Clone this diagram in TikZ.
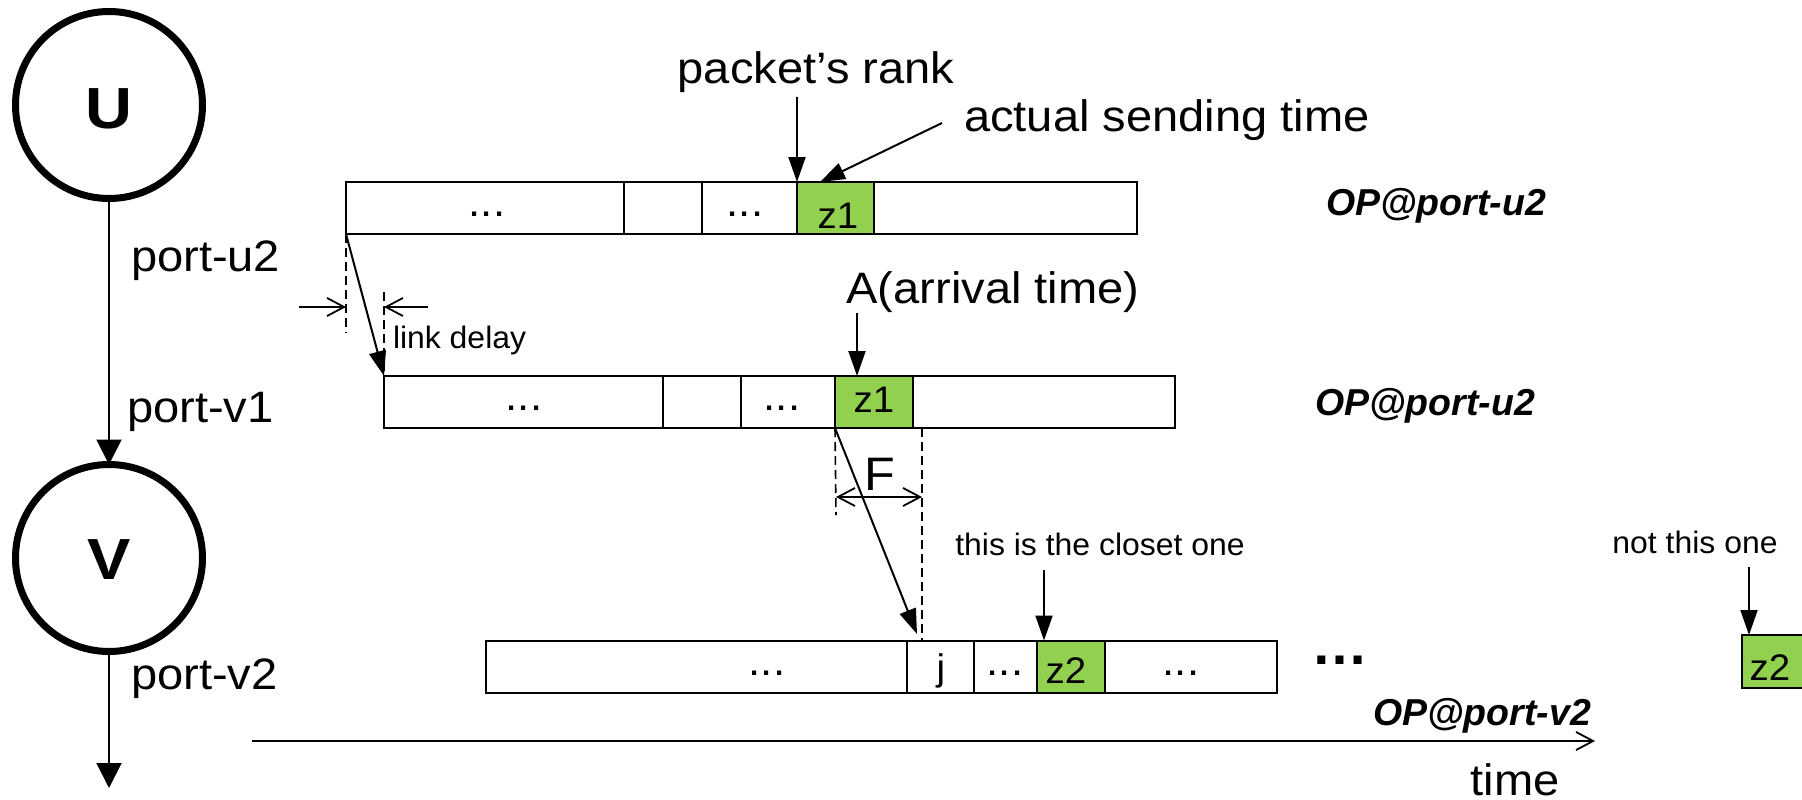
\documentclass[tikz,border=0pt]{standalone}
\usepackage{fontspec}
\setmainfont{Liberation Sans}
\newfontfamily\wideface[FakeStretch=1.07]{Liberation Sans}
\newfontfamily\noteface[FakeStretch=1.03]{Liberation Sans}
\newfontfamily\cellface[FakeStretch=1.04]{Liberation Sans}
\newfontfamily\nodeface[FakeStretch=1.12]{Liberation Sans}
\usetikzlibrary{arrows.meta}
\definecolor{slotgreen}{RGB}{146,208,80}
\newcommand\px[1]{\fontsize{#1}{#1}\selectfont}

\begin{document}
\begin{tikzpicture}[x=1pt, y=-1pt,
  every node/.style={inner sep=0pt, outer sep=0pt},
  queue/.style={draw, line width=2pt, minimum width=791pt, minimum height=52pt},
  slot/.style={draw, line width=2pt, minimum height=52pt},
  blank/.style={slot, line width=2.5pt},
  chosen/.style={slot, fill=slotgreen},
  big/.style={font=\wideface\px{44}, anchor=base},
  note/.style={font=\noteface\px{31}, anchor=base},
  celltext/.style={font=\cellface\px{37}, anchor=base},
  gap/.style={font=\cellface\px{42}, anchor=base},
  opname/.style={font=\px{37.5}\bfseries\itshape, anchor=base west},
  station/.style={circle, draw, line width=7pt, minimum size=187pt},
  stationname/.style={font=\nodeface\px{58}\bfseries},
  pointer/.style={line width=2pt, -{Triangle[length=25pt,width=17pt]}},
  link/.style={line width=2pt, -{Triangle[length=25pt,width=25pt]}},
  barb/.style={line width=1.8pt, -{Straight Barb[length=17pt,width=18pt]}},
  twoway/.style={line width=1.8pt, {Straight Barb[length=17pt,width=18pt]}-{Straight Barb[length=17pt,width=18pt]}},
  guide/.style={line width=1.6pt, dash pattern=on 9pt off 5pt},
]
\useasboundingbox (0,0) rectangle (1802,800);

% switches and the links between them
\node[station, label={[stationname, yshift=-4pt]center:U}] (U) at (109,105) {};
\node[station, label={[stationname, yshift=-2pt]center:V}] (V) at (109,558) {};
\coordinate (Vout) at (109,788);
\draw[link] (U) -- (V);
\draw[link] (V) -- (Vout);
\node[big, anchor=base west] (pu2) at (131,271) {port-u2};
\node[big, anchor=base west] (pv1) at (127,422) {port-v1};
\node[big, anchor=base west] (pv2) at (131,689) {port-v2};

% output queues
\node[queue] (q1) at (741.5,208) {};
\node[queue] (q2) at (779.5,402) {};
\node[queue] (q3) at (881.5,666.5) {};

% slots inside the queues
\node[blank, minimum width=78pt] (s1) at (663,208) {};
\node[chosen, minimum width=77pt] (z1a) at (835.5,208) {};
\node[blank, minimum width=78pt] (s2) at (702,402) {};
\node[chosen, minimum width=78pt] (z1b) at (874,402) {};
\node[slot, minimum width=67pt] (js) at (940.5,666.5) {};
\node[chosen, minimum width=68pt] (z2a) at (1071,666.5) {};
\node[chosen, minimum width=68pt, minimum height=53pt] (z2b) at (1776,661.5) {};

% slot contents
\node[gap] (d11) at (487,216) {...};
\node[gap] (d12) at (745,216) {...};
\node[celltext] (t1a) at (838,228) {z1};
\node[gap] (d21) at (524,410) {...};
\node[gap] (d22) at (782,410) {...};
\node[celltext] (t1b) at (874,412) {z1};
\node[gap] (d31) at (767,675) {...};
\node[celltext] (tj) at (941,680) {j};
\node[gap] (d32) at (1005,675) {...};
\node[celltext] (t2a) at (1066,683) {z2};
\node[gap] (d33) at (1181,675) {...};
\node[celltext] (t2b) at (1770,680) {z2};
\node[font=\px{57}\bfseries, anchor=base] (more) at (1340,664) {…};

% queue names
\node[opname] (op1) at (1326,215) {OP@port-u2};
\node[opname] (op2) at (1315,415) {OP@port-u2};
\node[opname] (op3) at (1373,725) {OP@port-v2};

% annotations
\node[big] (rank) at (816,84) {packet’s rank};
\node[big] (send) at (1167,131) {actual sending time};
\node[big] (arr) at (993,303) {A(arrival time)};
\node[note, anchor=base west] (ld) at (393,348) {link delay};
\node[note] (close) at (1100,555) {this is the closet one};
\node[note] (notthis) at (1695,553) {not this one};
\node[big, font=\wideface\px{47}] (F) at (880,490) {F};
\node[big] (time) at (1515,795) {time};

% pointers to slots
\coordinate (rankfoot) at (797,97);
\draw[pointer] (rankfoot) -- (z1a.north west);
\coordinate (sendfoot) at (942,123);
\coordinate (sendtip) at (820,182);
\draw[pointer] (sendfoot) -- (sendtip);
\coordinate (arrfoot) at (857,313);
\draw[pointer] (arrfoot) -- (arrfoot |- z1b.north);
\coordinate (closefoot) at (1044,570);
\draw[pointer] (closefoot) -- (closefoot |- z2a.north);
\coordinate (notfoot) at (1749,567);
\draw[pointer] (notfoot) -- (notfoot |- z2b.north);

% link delay between the two queues
\coordinate (ldA) at (346,333);
\coordinate (ldB) at (384,292);
\draw[guide] (q1.south west) -- (ldA);
\draw[guide] (ldB) -- (q2.north west);
\draw[pointer] (q1.south west) -- (q2.north west);
\coordinate (ldL) at (299,307);
\coordinate (ldR) at (428,307);
\draw[barb] (ldL) -- (ldL -| q1.south west);
\draw[barb] (ldR) -- (ldR -| q2.north west);

% forwarding span F
\coordinate (Fleft) at (836,515);
\coordinate (Ftop) at (922,428);
\coordinate (Fbot) at (922,640);
\draw[guide] (z1b.south west) -- (Fleft);
\draw[guide] (Ftop) -- (Fbot);
\coordinate (jtip) at (917,634);
\draw[pointer] (z1b.south west) -- (jtip);
\coordinate (Fa) at (836,497);
\coordinate (Fb) at (922,497);
\draw[twoway] (Fa) -- (Fb);

% time axis
\coordinate (t0) at (252,741);
\coordinate (t1) at (1595,741);
\draw[barb] (t0) -- (t1);
\end{tikzpicture}
\end{document}
